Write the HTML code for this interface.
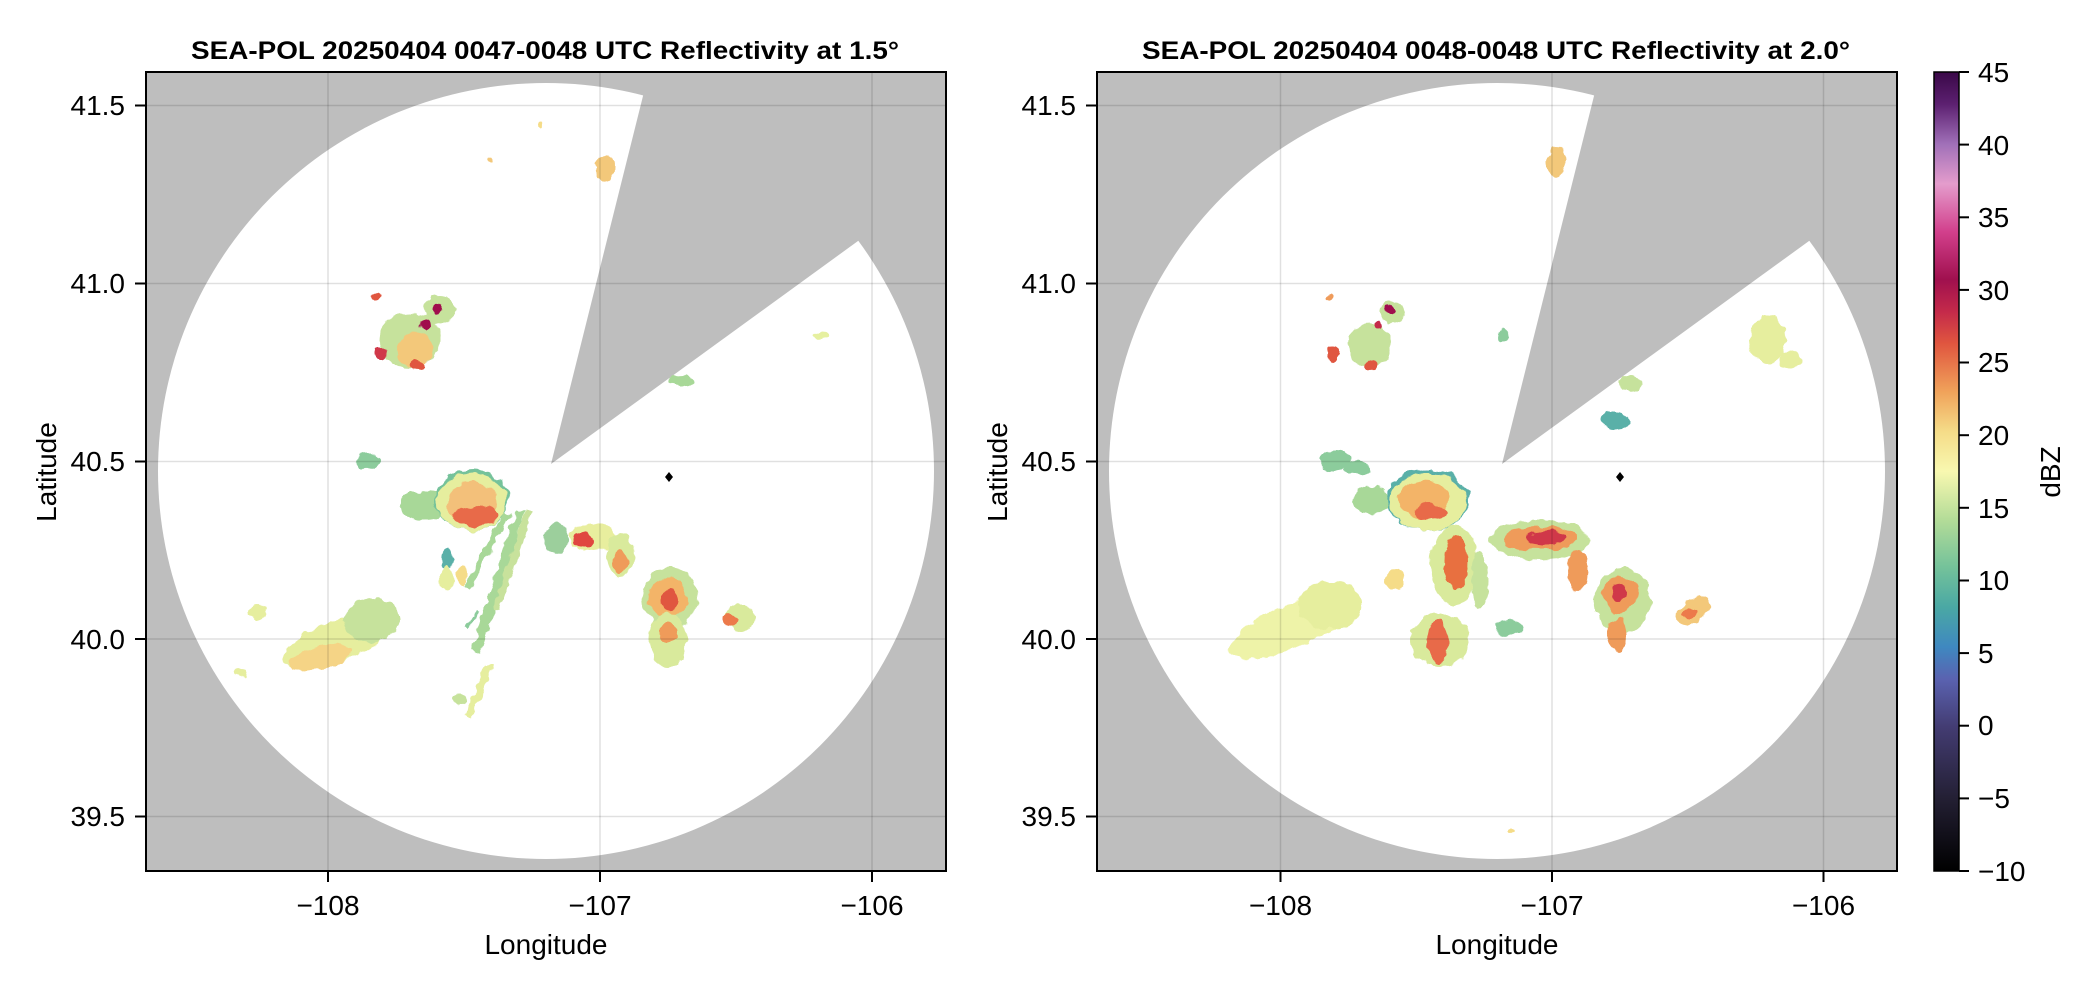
<!DOCTYPE html>
<html><head><meta charset="utf-8"><style>
html,body{margin:0;padding:0;background:#fff}
svg{display:block;font-family:"Liberation Sans",Arial,sans-serif}
</style></head><body>
<svg width="2096" height="990" viewBox="0 0 2096 990" xmlns="http://www.w3.org/2000/svg">
<defs>
<filter id="rough" x="-20%" y="-20%" width="140%" height="140%">
<feTurbulence type="fractalNoise" baseFrequency="0.09" numOctaves="2" seed="3"/>
<feDisplacementMap in="SourceGraphic" scale="9" xChannelSelector="R" yChannelSelector="G"/>
</filter>
<clipPath id="c1"><rect x="146" y="72" width="800" height="799"/></clipPath>
<clipPath id="c2"><rect x="1097" y="72" width="800" height="799"/></clipPath>
<linearGradient id="cb" x1="0" y1="1" x2="0" y2="0">
<stop offset="0" stop-color="#000"/>
<stop offset="0.09" stop-color="#231f33"/>
<stop offset="0.18" stop-color="#433c72"/>
<stop offset="0.24" stop-color="#5a62b0"/>
<stop offset="0.28" stop-color="#3f88c0"/>
<stop offset="0.33" stop-color="#4aa8a4"/>
<stop offset="0.38" stop-color="#74c29a"/>
<stop offset="0.44" stop-color="#b4dc98"/>
<stop offset="0.5" stop-color="#f8f8b0"/>
<stop offset="0.55" stop-color="#f5dc88"/>
<stop offset="0.6" stop-color="#f0a25a"/>
<stop offset="0.66" stop-color="#e0563f"/>
<stop offset="0.7" stop-color="#c42a4a"/>
<stop offset="0.74" stop-color="#a0104e"/>
<stop offset="0.8" stop-color="#d2408c"/>
<stop offset="0.86" stop-color="#e49ccc"/>
<stop offset="0.91" stop-color="#a070b8"/>
<stop offset="0.96" stop-color="#5c2070"/>
<stop offset="1" stop-color="#3a0848"/>
</linearGradient>
<g id="base">
<rect x="146" y="72" width="800" height="799" fill="#bebebe"/>
<circle cx="546" cy="471" r="388" fill="#fff"/>
<polygon points="551,464 735,-272 1165,-272 1165,18" fill="#bebebe"/>
</g>
</defs>

<g clip-path="url(#c1)">
<use href="#base"/>
<g filter="url(#rough)">
 <ellipse cx="410" cy="340" rx="30" ry="28" fill="#c6e29c"/>
 <ellipse cx="440" cy="310" rx="16" ry="14" fill="#c6e29c"/>
 <ellipse cx="415" cy="350" rx="18" ry="18" fill="#f3c87a"/>
 <ellipse cx="438" cy="309" rx="5" ry="5" fill="#a0104e"/>
 <ellipse cx="425" cy="325" rx="5" ry="5" fill="#a0104e"/>
 <ellipse cx="381" cy="354" rx="6" ry="6" fill="#d03848"/>
 <ellipse cx="418" cy="366" rx="8" ry="5" fill="#e0563f"/>
 <ellipse cx="376" cy="296" rx="5" ry="5" fill="#e0563f"/>
 <ellipse cx="605" cy="168" rx="9" ry="14" fill="#f3c87a"/>
 <ellipse cx="540" cy="124" rx="2" ry="4" fill="#f5dc88"/>
 <ellipse cx="490" cy="160" rx="2" ry="4" fill="#f3c87a"/>
 <ellipse cx="682" cy="381" rx="12" ry="6" fill="#a8d898"/>
 <ellipse cx="368" cy="461" rx="12" ry="8" fill="#8ccc9c"/>
 <ellipse cx="822" cy="335" rx="8" ry="3" fill="#e6f0a0"/>
 <ellipse cx="425" cy="505" rx="25" ry="14" fill="#a8d898"/>
 <ellipse cx="472" cy="500" rx="37" ry="31" fill="#74c29a"/>
 <ellipse cx="472" cy="502" rx="35" ry="29" fill="#e6ee9e"/>
 <ellipse cx="472" cy="503" rx="25" ry="20" fill="#f3c07a"/>
 <ellipse cx="475" cy="516" rx="22" ry="10" fill="#e86a48"/>
 <ellipse cx="556" cy="538" rx="12" ry="16" fill="#9ccf9c"/>
 <ellipse cx="593" cy="538" rx="24" ry="14" fill="#e8ee9e"/>
 <ellipse cx="583" cy="540" rx="10" ry="8" fill="#e0463f"/>
 <ellipse cx="620" cy="555" rx="14" ry="22" fill="#d9ea9c"/>
 <ellipse cx="620" cy="562" rx="7" ry="12" fill="#ef9b5a"/>
 <polygon points="516,510 524,512 480,655 472,650" fill="#a8d898"/>
 <polygon points="525,510 533,512 500,610 493,608" fill="#c8e29c"/>
 <polygon points="505,512 511,514 470,590 464,586" fill="#a8d898"/>
 <polygon points="485,665 494,665 472,718 466,715" fill="#e6ee9e"/>
 <polygon points="477,610 480,612 468,630 465,628" fill="#8ccc9c"/>
 <ellipse cx="447" cy="560" rx="6" ry="10" fill="#5ab0a8"/>
 <ellipse cx="447" cy="578" rx="6" ry="12" fill="#e6ee9e"/>
 <ellipse cx="462" cy="575" rx="5" ry="10" fill="#f5dc88"/>
 <ellipse cx="460" cy="700" rx="7" ry="6" fill="#c6e29c"/>
 <ellipse cx="670" cy="598" rx="28" ry="30" fill="#c6e29c"/>
 <ellipse cx="668" cy="598" rx="20" ry="20" fill="#f3b468"/>
 <ellipse cx="670" cy="600" rx="8" ry="10" fill="#e0563f"/>
 <ellipse cx="668" cy="640" rx="18" ry="28" fill="#d9ea9c"/>
 <ellipse cx="668" cy="632" rx="9" ry="10" fill="#ef9b5a"/>
 <ellipse cx="740" cy="618" rx="15" ry="13" fill="#d9ea9c"/>
 <ellipse cx="731" cy="620" rx="7" ry="7" fill="#ec7a4c"/>
 <ellipse cx="340" cy="640" rx="60" ry="20" transform="rotate(-20 340 640)" fill="#e6ee9e"/>
 <ellipse cx="372" cy="620" rx="28" ry="22" fill="#c6e29c"/>
 <ellipse cx="320" cy="658" rx="30" ry="12" transform="rotate(-15 320 658)" fill="#f5d486"/>
 <ellipse cx="258" cy="612" rx="8" ry="9" fill="#e6ee9e"/>
 <ellipse cx="240" cy="674" rx="6" ry="4" fill="#e6ee9e"/>
</g>
<g stroke="rgba(0,0,0,0.12)" stroke-width="1.5">
 <line x1="328" y1="72" x2="328" y2="871"/><line x1="600" y1="72" x2="600" y2="871"/><line x1="872" y1="72" x2="872" y2="871"/>
 <line x1="146" y1="105.5" x2="946" y2="105.5"/><line x1="146" y1="283.5" x2="946" y2="283.5"/><line x1="146" y1="461.5" x2="946" y2="461.5"/><line x1="146" y1="639" x2="946" y2="639"/><line x1="146" y1="816.5" x2="946" y2="816.5"/>
</g>
<polygon points="669,472 673,477 669,482 665,477" fill="#000"/>
</g>
<rect x="146" y="72" width="800" height="799" fill="none" stroke="#000" stroke-width="2"/>

<g clip-path="url(#c2)">
<use href="#base" transform="translate(951 0)"/>
<g filter="url(#rough)">
 <ellipse cx="1370" cy="345" rx="22" ry="22" fill="#c6e29c"/>
 <ellipse cx="1393" cy="312" rx="12" ry="12" fill="#c6e29c"/>
 <ellipse cx="1390" cy="309" rx="5" ry="5" fill="#a0104e"/>
 <ellipse cx="1378" cy="325" rx="4" ry="4" fill="#c42a4a"/>
 <ellipse cx="1334" cy="354" rx="6" ry="7" fill="#e0563f"/>
 <ellipse cx="1370" cy="366" rx="7" ry="5" fill="#e0563f"/>
 <ellipse cx="1328" cy="298" rx="4" ry="3" fill="#ef9b5a"/>
 <ellipse cx="1556" cy="162" rx="9" ry="16" fill="#f3c87a"/>
 <ellipse cx="1503" cy="336" rx="5" ry="6" fill="#8ccc9c"/>
 <ellipse cx="1768" cy="340" rx="18" ry="24" fill="#e6ee9e"/>
 <ellipse cx="1790" cy="360" rx="10" ry="10" fill="#e6ee9e"/>
 <ellipse cx="1630" cy="383" rx="12" ry="8" fill="#c6e29c"/>
 <ellipse cx="1615" cy="420" rx="14" ry="8" fill="#5ab0a8"/>
 <ellipse cx="1335" cy="460" rx="16" ry="10" fill="#8ccc9c"/>
 <ellipse cx="1357" cy="468" rx="12" ry="7" fill="#8ccc9c"/>
 <ellipse cx="1372" cy="500" rx="20" ry="14" fill="#a8d898"/>
 <ellipse cx="1428" cy="500" rx="41" ry="31" fill="#5ab0a8"/>
 <ellipse cx="1428" cy="502" rx="38" ry="29" fill="#e6ee9e"/>
 <ellipse cx="1424" cy="500" rx="26" ry="19" fill="#f3b468"/>
 <ellipse cx="1430" cy="512" rx="16" ry="8" fill="#e86a48"/>
 <ellipse cx="1540" cy="540" rx="50" ry="20" fill="#c6e29c"/>
 <ellipse cx="1540" cy="538" rx="38" ry="12" fill="#ef9b5a"/>
 <ellipse cx="1545" cy="538" rx="20" ry="7" fill="#d03848"/>
 <ellipse cx="1578" cy="570" rx="10" ry="20" fill="#ef9b5a"/>
 <ellipse cx="1455" cy="565" rx="24" ry="40" fill="#d9ea9c"/>
 <ellipse cx="1456" cy="562" rx="12" ry="28" fill="#e8703f"/>
 <ellipse cx="1440" cy="640" rx="30" ry="26" fill="#d9ea9c"/>
 <ellipse cx="1438" cy="642" rx="10" ry="22" fill="#e86a48"/>
 <ellipse cx="1480" cy="580" rx="8" ry="30" fill="#c6e29c"/>
 <ellipse cx="1395" cy="580" rx="10" ry="10" fill="#f5dc88"/>
 <ellipse cx="1509" cy="628" rx="15" ry="8" fill="#8ccc9c"/>
 <ellipse cx="1623" cy="600" rx="28" ry="32" fill="#c6e29c"/>
 <ellipse cx="1620" cy="595" rx="18" ry="18" fill="#ef9b5a"/>
 <ellipse cx="1619" cy="592" rx="7" ry="8" fill="#d03848"/>
 <ellipse cx="1618" cy="635" rx="10" ry="18" fill="#ef9b5a"/>
 <ellipse cx="1693" cy="611" rx="18" ry="12" transform="rotate(-30 1693 611)" fill="#f3c87a"/>
 <ellipse cx="1690" cy="614" rx="8" ry="6" fill="#ec7a4c"/>
 <ellipse cx="1295" cy="625" rx="70" ry="22" transform="rotate(-22 1295 625)" fill="#eef3a8"/>
 <ellipse cx="1330" cy="605" rx="32" ry="24" fill="#e6ee9e"/>
 <ellipse cx="1510" cy="830" rx="3" ry="3" fill="#f5dc88"/>
</g>
<g stroke="rgba(0,0,0,0.12)" stroke-width="1.5">
 <line x1="1280.5" y1="72" x2="1280.5" y2="871"/><line x1="1552" y1="72" x2="1552" y2="871"/><line x1="1823.5" y1="72" x2="1823.5" y2="871"/>
 <line x1="1097" y1="105.5" x2="1897" y2="105.5"/><line x1="1097" y1="283.5" x2="1897" y2="283.5"/><line x1="1097" y1="461.5" x2="1897" y2="461.5"/><line x1="1097" y1="639" x2="1897" y2="639"/><line x1="1097" y1="816.5" x2="1897" y2="816.5"/>
</g>
<polygon points="1620,472 1624,477 1620,482 1616,477" fill="#000"/>
</g>
<rect x="1097" y="72" width="800" height="799" fill="none" stroke="#000" stroke-width="2"/>

<g stroke="#000" stroke-width="2">
 <line x1="135" y1="105.5" x2="146" y2="105.5"/><line x1="135" y1="283.5" x2="146" y2="283.5"/><line x1="135" y1="461.5" x2="146" y2="461.5"/><line x1="135" y1="639" x2="146" y2="639"/><line x1="135" y1="816.5" x2="146" y2="816.5"/>
 <line x1="328" y1="871" x2="328" y2="882"/><line x1="600" y1="871" x2="600" y2="882"/><line x1="872" y1="871" x2="872" y2="882"/>
 <line x1="1086" y1="105.5" x2="1097" y2="105.5"/><line x1="1086" y1="283.5" x2="1097" y2="283.5"/><line x1="1086" y1="461.5" x2="1097" y2="461.5"/><line x1="1086" y1="639" x2="1097" y2="639"/><line x1="1086" y1="816.5" x2="1097" y2="816.5"/>
 <line x1="1280.5" y1="871" x2="1280.5" y2="882"/><line x1="1552" y1="871" x2="1552" y2="882"/><line x1="1823.5" y1="871" x2="1823.5" y2="882"/>
</g>
<g font-size="28" fill="#000" text-anchor="end">
 <text x="125" y="115">41.5</text><text x="125" y="293">41.0</text><text x="125" y="471">40.5</text><text x="125" y="649">40.0</text><text x="125" y="826">39.5</text>
 <text x="1076" y="115">41.5</text><text x="1076" y="293">41.0</text><text x="1076" y="471">40.5</text><text x="1076" y="649">40.0</text><text x="1076" y="826">39.5</text>
</g>
<g font-size="28" fill="#000" text-anchor="middle">
 <text x="328" y="915">−108</text><text x="600" y="915">−107</text><text x="872" y="915">−106</text>
 <text x="1280.5" y="915">−108</text><text x="1552" y="915">−107</text><text x="1823.5" y="915">−106</text>
 <text x="546" y="954">Longitude</text><text x="1497" y="954">Longitude</text>
 <text transform="translate(56 472) rotate(-90)">Latitude</text>
 <text transform="translate(1007 472) rotate(-90)">Latitude</text>
 <text transform="translate(2060 472) rotate(-90)">dBZ</text>
</g>
<g font-size="25" font-weight="bold" text-anchor="middle">
 <text x="545" y="59" textLength="708" lengthAdjust="spacingAndGlyphs">SEA-POL 20250404 0047-0048 UTC Reflectivity at 1.5°</text>
 <text x="1496" y="59" textLength="708" lengthAdjust="spacingAndGlyphs">SEA-POL 20250404 0048-0048 UTC Reflectivity at 2.0°</text>
</g>

<rect x="1934" y="72" width="25" height="799" fill="url(#cb)"/>
<rect x="1934" y="72" width="25" height="799" fill="none" stroke="#000" stroke-width="1.5"/>
<g stroke="#000" stroke-width="2">
 <line x1="1959" y1="72" x2="1969" y2="72"/><line x1="1959" y1="144.6" x2="1969" y2="144.6"/><line x1="1959" y1="217.3" x2="1969" y2="217.3"/><line x1="1959" y1="289.9" x2="1969" y2="289.9"/><line x1="1959" y1="362.5" x2="1969" y2="362.5"/><line x1="1959" y1="435.2" x2="1969" y2="435.2"/><line x1="1959" y1="507.8" x2="1969" y2="507.8"/><line x1="1959" y1="580.5" x2="1969" y2="580.5"/><line x1="1959" y1="653.1" x2="1969" y2="653.1"/><line x1="1959" y1="725.7" x2="1969" y2="725.7"/><line x1="1959" y1="798.4" x2="1969" y2="798.4"/><line x1="1959" y1="871" x2="1969" y2="871"/>
</g>
<g font-size="28" fill="#000">
 <text x="1978" y="82">45</text><text x="1978" y="155">40</text><text x="1978" y="227">35</text><text x="1978" y="300">30</text><text x="1978" y="372">25</text><text x="1978" y="445">20</text><text x="1978" y="518">15</text><text x="1978" y="590">10</text><text x="1978" y="663">5</text><text x="1978" y="735">0</text><text x="1978" y="808">−5</text><text x="1978" y="881">−10</text>
</g>
</svg>
</body></html>
